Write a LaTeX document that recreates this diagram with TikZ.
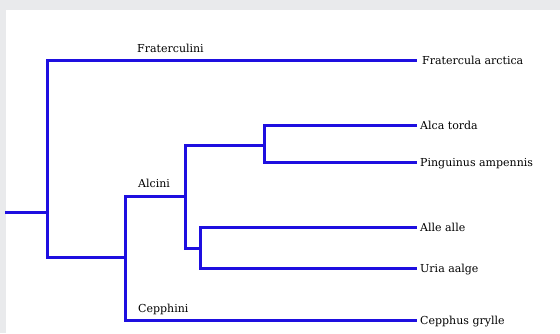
\documentclass[tikz,border=0pt]{standalone}
\usepackage{fontspec}
\setmainfont{DejaVu Serif}
\definecolor{bgGray}{HTML}{E9EAEC}
\definecolor{treeBlue}{HTML}{1E0FE0}
\begin{document}
\begin{tikzpicture}[x=1pt,y=-1pt,
  branch/.style={draw=treeBlue,line width=3pt,line cap=rect},
  leaf/.style={anchor=base west,inner sep=0pt,font=\fontsize{11}{13}\selectfont},
  clade/.style={anchor=base west,inner sep=0pt,font=\fontsize{11}{13}\selectfont}]
\fill[bgGray] (0,0) rectangle (560,333);
\fill[white] (6,10) rectangle (560,333);
\useasboundingbox (0,0) rectangle (560,333);
% coordinates
\coordinate (root) at (6,212);
\coordinate (n0) at (47,212);
\coordinate (n0t) at (47,60);
\coordinate (n0b) at (47,257);
\coordinate (n1) at (125,257);
\coordinate (n1t) at (125,196);
\coordinate (n1b) at (125,320);
\coordinate (n2) at (185,196);
\coordinate (n2t) at (185,145);
\coordinate (n2b) at (185,248);
\coordinate (n3) at (264,145);
\coordinate (n3t) at (264,125);
\coordinate (n3b) at (264,162);
\coordinate (n4) at (200,248);
\coordinate (n4t) at (200,227);
\coordinate (n4b) at (200,268);
% line ends
\coordinate (efa) at (415,60);
\coordinate (eat) at (415,125);
\coordinate (epa) at (415,162);
\coordinate (eaa) at (415,227);
\coordinate (eua) at (415,268);
\coordinate (ecg) at (415,320);
% leaves
\node[leaf] (fa) at (422,64) {Fratercula arctica};
\node[leaf] (at) at (420,129) {Alca torda};
\node[leaf] (pa) at (420,166) {Pinguinus ampennis};
\node[leaf] (aa) at (420,231) {Alle alle};
\node[leaf] (ua) at (420,272) {Uria aalge};
\node[leaf] (cg) at (420,324) {Cepphus grylle};
% clade labels
\node[clade] (fr) at (137,52) {Fraterculini};
\node[clade] (al) at (138,187) {Alcini};
\node[clade] (ce) at (138,312) {Cepphini};
% branches
\draw[branch] (root) -- (n0);
\draw[branch] (n0t) -- (n0b);
\draw[branch] (n0t) -- (efa);
\draw[branch] (n0b) -- (n1);
\draw[branch] (n1t) -- (n1b);
\draw[branch] (n1t) -- (n2);
\draw[branch] (n1b) -- (ecg);
\draw[branch] (n2t) -- (n2b);
\draw[branch] (n2t) -- (n3);
\draw[branch] (n3t) -- (n3b);
\draw[branch] (n3t) -- (eat);
\draw[branch] (n3b) -- (epa);
\draw[branch] (n2b) -- (n4);
\draw[branch] (n4t) -- (n4b);
\draw[branch] (n4t) -- (eaa);
\draw[branch] (n4b) -- (eua);
\end{tikzpicture}
\end{document}
